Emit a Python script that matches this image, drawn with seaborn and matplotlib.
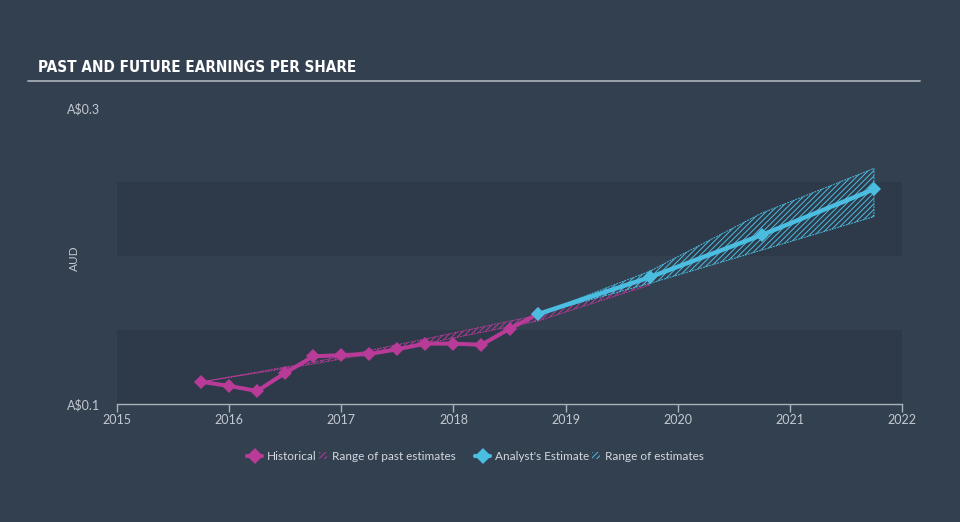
import matplotlib
matplotlib.use("Agg")
import matplotlib.pyplot as plt
import matplotlib.patches as mpatches
from matplotlib.lines import Line2D
from matplotlib.legend_handler import HandlerPatch
from matplotlib import font_manager as fm
import seaborn as sns
import pandas as pd

# ---- data ----
hist_x = [2015.75, 2016.0, 2016.25, 2016.5, 2016.75, 2017.0, 2017.25, 2017.5,
          2017.75, 2018.0, 2018.25, 2018.5, 2018.75]
hist_y = [0.1150, 0.1122, 0.1088, 0.1210, 0.1322, 0.1330, 0.1338, 0.1370,
          0.1408, 0.1408, 0.1400, 0.1508, 0.1606]

past_x = [2015.75, 2016.75, 2017.75, 2018.75, 2019.75]
past_low = [0.1149, 0.1270, 0.1408, 0.1560, 0.1804]
past_high = [0.1149, 0.1283, 0.1440, 0.1600, 0.1850]

est_x = [2018.75, 2019.75, 2020.75, 2021.75]
est_y = [0.1606, 0.1856, 0.2142, 0.2451]
est_low = [0.1606, 0.1815, 0.2040, 0.2266]
est_high = [0.1606, 0.1897, 0.2290, 0.2592]

x_ticks = [2015, 2016, 2017, 2018, 2019, 2020, 2021, 2022]
y_ticks = [0.1, 0.3]
y_tick_labels = [r"A\$0.1", r"A\$0.3"]
title = "PAST AND FUTURE EARNINGS PER SHARE"

# ---- style ----
BG = "#334050"
BAND = "#2e3a49"
PURPLE = "#b93b98"
CYAN = "#4bbde1"
TXT = "#c3c9d0"

sns.set_style("dark")
plt.rcParams["font.family"] = ["Lato", "DejaVu Sans"]
plt.rcParams["hatch.linewidth"] = 0.7

# pick a narrow bold font for the title if one is installed
title_font = None
narrow = []
for f in fm.fontManager.ttflist:
    name = (f.fname + " " + f.name).lower()
    if ("cond" in name or "narrow" in name) and ("bold" in name or f.weight in (600, 700, 800, 900, "bold")):
        narrow.append(f)
if narrow:
    narrow.sort(key=lambda f: (0 if "bold" in f.fname.lower() else 1))
    title_font = fm.FontProperties(fname=narrow[0].fname)
else:
    title_font = fm.FontProperties(family=["Roboto", "DejaVu Sans"], weight="bold")

fig = plt.figure(figsize=(9.6, 5.22), dpi=100, facecolor=BG)
ax = fig.add_axes([117 / 960, 1 - 404 / 522, 785 / 960, 296 / 522])
ax.set_facecolor(BG)
ax.grid(False)

ax.axhspan(0.1, 0.15, color=BAND, zorder=0, lw=0)
ax.axhspan(0.2, 0.25, color=BAND, zorder=0, lw=0)

# ranges
ax.fill_between(past_x, past_low, past_high, facecolor="none", edgecolor=PURPLE,
                hatch="//////", linewidth=0.7, linestyle=(0, (2, 1)), zorder=2)
ax.fill_between(est_x, est_low, est_high, facecolor="none", edgecolor=CYAN,
                hatch="//////", linewidth=0.7, linestyle=(0, (2, 1)), zorder=2)

hist_df = pd.DataFrame({"x": hist_x, "y": hist_y})
est_df = pd.DataFrame({"x": est_x, "y": est_y})
sns.lineplot(data=hist_df, x="x", y="y", ax=ax, color=PURPLE, lw=2.9,
             marker="D", markersize=7, markeredgewidth=0, zorder=4)
sns.lineplot(data=est_df, x="x", y="y", ax=ax, color=CYAN, lw=3.2,
             marker="D", markersize=7.5, markeredgewidth=0, zorder=5)

ax.set_xlim(2015, 2022)
ax.set_ylim(0.1, 0.3)
ax.set_xticks(x_ticks)
ax.set_xticklabels([str(t) for t in x_ticks])
ax.set_yticks(y_ticks)
ax.set_yticklabels(y_tick_labels)
ax.tick_params(axis="x", direction="out", length=5.5, width=1, color="#a9b1ba",
               labelcolor=TXT, labelsize=9, pad=1.5, bottom=True)
ax.tick_params(axis="y", length=0, labelcolor=TXT, labelsize=9, pad=12, left=True)
for s in ["top", "right", "left"]:
    ax.spines[s].set_visible(False)
ax.spines["bottom"].set_color("#a9b1ba")
ax.spines["bottom"].set_linewidth(1)
ax.set_xlabel("")
ax.set_ylabel("AUD", color=TXT, fontsize=8.5)
ax.yaxis.set_label_coords(-0.047, 0.493)

# title and rule
t = fig.text(38 / 960, 1 - 68 / 522, title, color="white", fontsize=14,
             va="center", ha="left", fontproperties=title_font)
t.set_fontsize(14)
fig.canvas.draw()
w = t.get_window_extent().width
fs = 14 * 230.0 / w
t.set_fontsize(max(min(fs, 14), 11))
fig.add_artist(Line2D([28 / 960, 920 / 960], [1 - 81 / 522, 1 - 81 / 522],
                      color="#a3abb4", lw=1.3))

# legends
class NarrowHatch(HandlerPatch):
    def create_artists(self, legend, orig_handle, xdescent, ydescent, width,
                       height, fontsize, trans):
        w = 6
        p = mpatches.Rectangle((width - xdescent - w, -ydescent + 1), w, height - 1,
                               facecolor="none", edgecolor=orig_handle.get_edgecolor(),
                               hatch="//////", lw=0, transform=trans)
        return [p]

def make_legend(color, lab1, lab2, x0):
    h1 = Line2D([], [], color=color, lw=3, marker="D", markersize=8,
                markeredgewidth=0)
    h2 = mpatches.Patch(facecolor="none", edgecolor=color, hatch="//////")
    leg = fig.legend([h1, h2], [lab1, lab2], ncol=2, loc="center left",
                     bbox_to_anchor=(x0 / 960, 1 - 457 / 522), frameon=False,
                     fontsize=8.5, labelcolor="#d3d8de", handlelength=1.3,
                     handletextpad=0.4, columnspacing=-0.4, borderpad=0,
                     borderaxespad=0, handler_map={mpatches.Patch: NarrowHatch()})
    return leg

make_legend(PURPLE, "Historical", "Range of past estimates", 247)
make_legend(CYAN, "Analyst's Estimate", "Range of estimates", 475)

fig.savefig("out.png", dpi=100, facecolor=BG)
